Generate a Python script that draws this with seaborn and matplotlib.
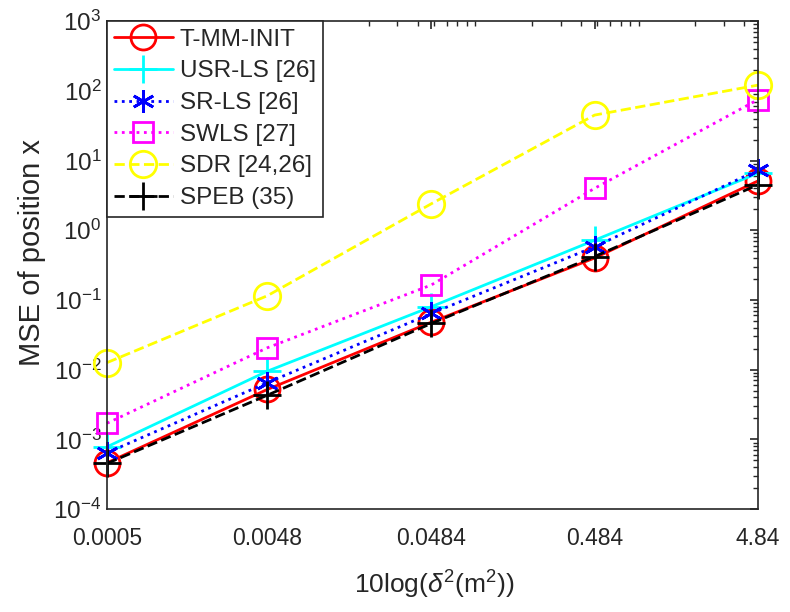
import matplotlib
matplotlib.use("Agg")
import matplotlib.pyplot as plt
import seaborn as sns
import pandas as pd
from matplotlib.ticker import LogLocator, NullFormatter, FixedLocator


# Data
x_vals = [0.0005, 0.0048, 0.0484, 0.484, 4.84]
x_labels = ["0.0005", "0.0048", "0.0484", "0.484", "4.84"]

tmm_init = [4.6e-4, 5.2e-3, 0.048, 0.40, 5.1]
usr_ls = [7.8e-4, 9.5e-3, 0.080, 0.72, 6.6]
sr_ls = [6.4e-4, 6.5e-3, 0.064, 0.58, 7.3]
swls = [1.7e-3, 0.0206, 0.164, 4.0, 75]
sdr = [0.0126, 0.115, 2.4, 45, 121]
speb = [4.5e-4, 4.3e-3, 0.046, 0.42, 4.5]

names = ["T-MM-INIT", "USR-LS [26]", "SR-LS [26]", "SWLS [27]", "SDR [24,26]", "SPEB (35)"]
series = [tmm_init, usr_ls, sr_ls, swls, sdr, speb]

sns.set_style("white")
plt.rcParams["font.family"] = ["Liberation Sans", "DejaVu Sans"]
plt.rcParams["mathtext.fontset"] = "custom"
plt.rcParams["mathtext.rm"] = "Liberation Sans"
plt.rcParams["mathtext.it"] = "Liberation Sans:italic"
plt.rcParams["xtick.direction"] = "in"
plt.rcParams["ytick.direction"] = "in"

styles = [
    dict(color="red", linestyle="-", marker="o", markersize=18),
    dict(color="cyan", linestyle="-", marker="+", markersize=20),
    dict(color="blue", linestyle=":", marker=(6, 2, 0), markersize=16),
    dict(color="magenta", linestyle=":", marker="s", markersize=14),
    dict(color="yellow", linestyle="--", marker="o", markersize=19),
    dict(color="black", linestyle="--", marker="+", markersize=20),
]

fig = plt.figure(figsize=(7.9, 6.12), dpi=100)
ax = fig.add_axes([0.1354, 0.1683, 0.824, 0.797])

for name, vals, st in zip(names, series, styles):
    df = pd.DataFrame({"x": x_vals, "y": vals})
    sns.lineplot(data=df, x="x", y="y", ax=ax, label=name, errorbar=None,
                 color=st["color"], linestyle=st["linestyle"], marker=st["marker"],
                 markersize=st["markersize"], markerfacecolor="none",
                 markeredgecolor=st["color"], markeredgewidth=2, linewidth=2,
                 clip_on=False)

ax.set_xscale("log")
ax.set_yscale("log")
ax.set_xlim(0.0005, 4.84)
ax.set_ylim(1e-4, 1e3)

ax.xaxis.set_major_locator(FixedLocator(x_vals))
ax.set_xticklabels(x_labels)
ax.xaxis.set_minor_locator(LogLocator(base=10, subs=range(2, 10), numticks=20))
ax.xaxis.set_minor_formatter(NullFormatter())
ax.set_yticks([10.0 ** k for k in range(-4, 4)])
ax.set_yticklabels([r"$10^{%d}$" % k for k in range(-4, 4)])
ax.yaxis.set_minor_locator(LogLocator(base=10, subs=range(2, 10), numticks=20))
ax.yaxis.set_minor_formatter(NullFormatter())

ax.tick_params(which="both", top=True, right=True, colors="#262626")
ax.tick_params(axis="x", labelsize=16.5)
ax.tick_params(axis="y", labelsize=17.5)
ax.tick_params(which="major", length=6, width=1.2)
ax.tick_params(which="minor", length=3.5, width=1)
ax.tick_params(axis="x", which="major", pad=13)
ax.tick_params(axis="y", which="major", pad=4)
for sp in ax.spines.values():
    sp.set_color("#262626")
    sp.set_linewidth(1.2)

ax.set_xlabel(r"10log($\delta^2$(m$^2$))", fontsize=19, color="#262626")
ax.xaxis.set_label_coords(0.503, -0.122)
ax.set_ylabel("MSE of position x", fontsize=21, color="#262626")
ax.yaxis.set_label_coords(-0.094, 0.525)

leg = ax.legend(loc="upper left", borderaxespad=0, fontsize=17.5, fancybox=False,
                edgecolor="#262626", framealpha=1, handlelength=2.4,
                labelspacing=0.4, handletextpad=0.3, borderpad=0.3)
leg.get_frame().set_linewidth(1.2)

fig.savefig("out.png", dpi=100)
